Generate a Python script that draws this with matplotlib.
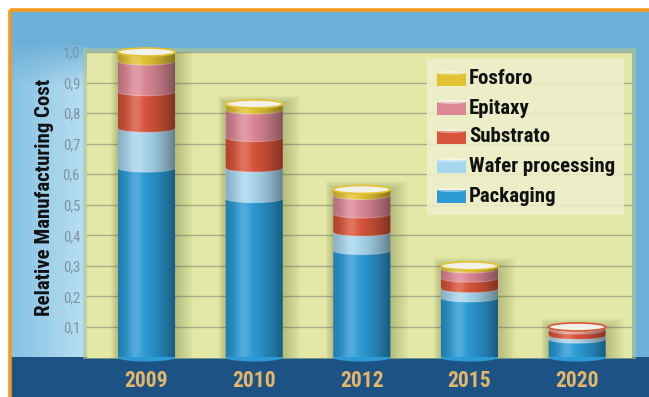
import numpy as np
import matplotlib.pyplot as plt
from matplotlib import font_manager
from matplotlib.patches import Rectangle, Ellipse, PathPatch
from matplotlib.path import Path
from matplotlib.colors import to_rgb

# relative manufacturing cost per year, stacked bottom -> top
years = ['2009', '2010', '2012', '2015', '2020']
packaging = [0.62, 0.52, 0.35, 0.195, 0.06]
wafer = [0.13, 0.10, 0.06, 0.03, 0.012]
substrato = [0.12, 0.10, 0.06, 0.035, 0.018]
epitaxy = [0.10, 0.09, 0.06, 0.03, 0.006]
fosforo = [0.03, 0.02, 0.02, 0.01, 0.004]

seriesNames = ['Packaging', 'Wafer processing', 'Substrato', 'Epitaxy', 'Fosforo']
seriesValues = [packaging, wafer, substrato, epitaxy, fosforo]
seriesColors = ['#2B9AD5', '#A8D6EE', '#D8543A', '#DC8796', '#E2C232']

# narrowest sans available
installed = {f.name for f in font_manager.fontManager.ttflist}
family = 'DejaVu Sans'
for cand in ['Liberation Sans Narrow', 'Roboto Condensed', 'Open Sans Condensed', 'Noto Sans Condensed']:
    if cand in installed:
        family = cand
        break
plt.rcParams['font.family'] = [family, 'DejaVu Sans']
plt.rcParams['font.stretch'] = 'condensed'

W, H = 649, 397
fig = plt.figure(figsize=(W / 100, H / 100), dpi=100)
fig.patch.set_facecolor('white')

# frame / background in pixel units
bg = fig.add_axes([0, 0, 1, 1], zorder=0)
bg.axis('off')
bg.add_patch(Rectangle((11, 11), W - 11, H - 11, fc='#6DB0D7', ec='none', zorder=1))
leftGrad = np.linspace(0, 1, 80)
c0, c1 = np.array(to_rgb('#86C2E4')), np.array(to_rgb('#BADFF1'))
img = (c0[None, :] * (1 - leftGrad[:, None]) + c1[None, :] * leftGrad[:, None])[None, :, :]
bg.imshow(img, extent=(11, 87, 357, 45), aspect='auto', interpolation='bilinear', zorder=2)
topGrad = np.linspace(0, 1, 40)
fade = np.zeros((40, 1, 4))
fade[..., :3] = to_rgb('#6DB0D7')
fade[:, 0, 3] = 1 - topGrad
bg.imshow(fade, extent=(11, 87, 85, 40), aspect='auto', interpolation='bilinear', zorder=3)
bg.add_patch(Rectangle((11, 357), W - 11, 40, fc='#1C5384', ec='none', zorder=4))
bg.add_patch(Rectangle((83, 48), 553, 311, fc='#B5C68A', ec='none', alpha=0.55, zorder=4))
bg.plot([10, W], [10, 10], color='#F39A1E', lw=2.6, solid_capstyle='butt', zorder=5)
bg.plot([10, 10], [10, H], color='#F39A1E', lw=2.6, solid_capstyle='butt', zorder=5)
bg.set_xlim(0, W)
bg.set_ylim(H, 0)

# plot panel
ax = fig.add_axes([87 / W, 1 - 357.5 / H, (632 - 87) / W, (357.5 - 52) / H], zorder=1)
ax.set_facecolor('#E4E8A6')
for s in ax.spines.values():
    s.set_visible(False)

xPos = np.arange(len(years))
barWidth = 0.53
xLim = (-0.553, 4.51)
yLim = (0, 1.0)
eh = 8 / 305.5  # ellipse height in data units

ax.set_yticks(np.arange(1, 11) / 10)
ax.set_yticklabels([f'{v / 10:.1f}'.replace('.', ',') for v in range(1, 11)],
                   color='#7A93A8', fontsize=10.5)
ax.yaxis.grid(True, color='#ABAB8C', lw=1)
ax.set_axisbelow(True)
ax.set_xticks(xPos)
ax.set_xticklabels(years, color='#E3B669', fontsize=15.5, fontweight='bold')
ax.tick_params(axis='both', length=0)
ax.tick_params(axis='y', pad=5)
ax.tick_params(axis='x', pad=9)


def halfEllipse(cx, cy, w, h, n=40):
    t = np.linspace(np.pi, 2 * np.pi, n)
    return np.column_stack([cx + w / 2 * np.cos(t), cy + h / 2 * np.sin(t)])


def cylinderPath(cx, bottom, top, w, h):
    low = halfEllipse(cx, bottom, w, h)
    side = np.array([[cx + w / 2, top], [cx - w / 2, top], low[0]])
    verts = np.vstack([low, side])
    codes = [Path.MOVETO] + [Path.LINETO] * (len(verts) - 2) + [Path.CLOSEPOLY]
    return Path(verts, codes)


# shading profile across a cylinder
t = np.linspace(0, 1, 100)
darkAlpha = 0.42 * (np.abs(t - 0.38) / 0.62) ** 1.6
lightAlpha = 0.2 * np.exp(-((t - 0.3) / 0.12) ** 2)
shadeDark = np.zeros((1, 100, 4))
shadeDark[..., 3] = darkAlpha
shadeLight = np.ones((1, 100, 4))
shadeLight[..., 3] = lightAlpha

totals = np.sum(seriesValues, axis=0)
for i, cx in enumerate(xPos):
    top = totals[i]
    # soft shadow on the panel
    for k in range(14):
        d = 0.01 * (k + 1)
        ax.add_patch(Rectangle((cx - barWidth / 2 - d * 0.5, 0), barWidth + d * 1.7, top + d * 0.2,
                               fc='#55652A', ec='none', alpha=0.024, zorder=2))
    bottom = 0
    for name, vals, col in zip(seriesNames, seriesValues, seriesColors):
        v = vals[i]
        seg = PathPatch(cylinderPath(cx, bottom, bottom + v, barWidth, eh),
                        fc=col, ec='none', zorder=3, clip_on=False)
        ax.add_patch(seg)
        if bottom > 0:
            rim = halfEllipse(cx, bottom, barWidth, eh)
            ax.plot(rim[:, 0], rim[:, 1], color='white', alpha=0.35, lw=0.8, zorder=3.5)
        bottom += v
    sil = PathPatch(cylinderPath(cx, 0, top, barWidth, eh), fc='none', ec='none',
                    transform=ax.transData)
    ax.add_patch(sil)
    for shade in (shadeDark, shadeLight):
        im = ax.imshow(shade, extent=(cx - barWidth / 2, cx + barWidth / 2, -eh, top),
                       aspect='auto', zorder=4, interpolation='bilinear')
        im.set_clip_path(sil)
    rimColor = seriesColors[-1] if fosforo[i] > 0.008 else seriesColors[2]
    ax.add_patch(Ellipse((cx, top), barWidth, eh, fc='#F2F1EA', ec=rimColor,
                         lw=1.2, zorder=5, clip_on=False))

ax.set_xlim(*xLim)
ax.set_ylim(*yLim)

# legend box
leg = fig.add_axes([0, 0, 1, 1], zorder=2)
leg.axis('off')
leg.add_patch(Rectangle((427, 59), 197, 156, fc='#EEF0CD', ec='none', alpha=0.85))
rowY = [196, 166, 137, 108, 79]
for name, col, ry in zip(seriesNames, seriesColors, rowY):
    leg.add_patch(Rectangle((437, ry - 6), 29, 13, fc=col, ec='none'))
    leg.add_patch(Ellipse((451.5, ry - 6), 29, 4, fc='white', ec='none', alpha=0.45))
    leg.text(469, ry, name, fontsize=15, fontweight='bold', color='#111111', va='center', ha='left')
leg.set_xlim(0, W)
leg.set_ylim(H, 0)

fig.text(45 / W, 1 - 197 / H, 'Relative Manufacturing Cost', rotation=90, fontsize=15,
         fontweight='bold', color='#111111', ha='center', va='center')

fig.savefig('out.png', dpi=100)
